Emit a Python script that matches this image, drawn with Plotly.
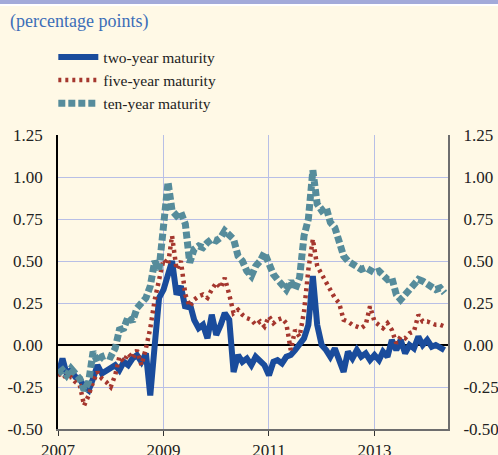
import pandas as pd
import plotly.graph_objects as go

# monthly observations, Jan 2007 - May 2014
dates = pd.date_range("2007-01-01", periods=89, freq="MS")

two_year = [
    -0.18, -0.08, -0.17, -0.15, -0.19, -0.20, -0.25, -0.27, -0.20, -0.12, -0.17, -0.15,
    -0.14, -0.12, -0.15, -0.10, -0.12, -0.08, -0.06, -0.10, -0.05, -0.30, 0.00, 0.28,
    0.33, 0.42, 0.50, 0.30, 0.35, 0.22, 0.25, 0.15, 0.10, 0.12, 0.04, 0.18,
    0.06, 0.12, 0.19, 0.15, -0.16, -0.06, -0.10, -0.08, -0.12, -0.07, -0.09, -0.12,
    -0.18, -0.10, -0.09, -0.11, -0.07, -0.06, -0.03, 0.00, 0.04, 0.12, 0.41, 0.12,
    0.00, -0.03, -0.07, -0.02, -0.10, -0.16, -0.04, -0.08, -0.03, -0.07, -0.05, -0.09,
    -0.06, -0.09, -0.04, -0.07, 0.03, -0.03, 0.03, -0.05, 0.00, -0.02, 0.05, 0.00,
    0.03, -0.01, 0.00, -0.02, -0.03,
]

five_year = [
    -0.18, -0.17, -0.20, -0.19, -0.22, -0.24, -0.36, -0.30, -0.22, -0.16, -0.20, -0.22,
    -0.25, -0.18, -0.07, -0.10, -0.05, -0.08, -0.03, -0.12, -0.02, 0.10, 0.27, 0.40,
    0.51, 0.48, 0.65, 0.45, 0.50, 0.30, 0.23, 0.27, 0.29, 0.30, 0.28, 0.33,
    0.37, 0.34, 0.40, 0.30, 0.19, 0.21, 0.18, 0.16, 0.15, 0.12, 0.14, 0.11,
    0.17, 0.13, 0.15, 0.16, 0.13, -0.03, 0.09, 0.05, 0.20, 0.45, 0.63, 0.47,
    0.42, 0.37, 0.33, 0.28, 0.25, 0.15, 0.14, 0.12, 0.11, 0.10, 0.12, 0.23,
    0.14, 0.12, 0.10, 0.13, 0.09, 0.01, 0.05, 0.04, 0.07, 0.08, 0.18, 0.14,
    0.14, 0.13, 0.12, 0.12, 0.11,
]

ten_year = [
    -0.17, -0.15, -0.18, -0.14, -0.17, -0.20, -0.27, -0.22, -0.04, -0.10, -0.07, -0.06,
    -0.07, -0.02, 0.09, 0.10, 0.17, 0.14, 0.22, 0.25, 0.28, 0.35, 0.50, 0.45,
    0.70, 0.97, 0.80, 0.77, 0.79, 0.72, 0.49, 0.57, 0.59, 0.58, 0.61, 0.63,
    0.62, 0.64, 0.68, 0.66, 0.63, 0.53, 0.50, 0.44, 0.41, 0.47, 0.50, 0.55,
    0.48, 0.42, 0.39, 0.36, 0.33, 0.38, 0.33, 0.40, 0.65, 0.75, 1.04, 0.84,
    0.80, 0.82, 0.73, 0.70, 0.60, 0.53, 0.50, 0.48, 0.47, 0.45, 0.46, 0.44,
    0.43, 0.44, 0.42, 0.39, 0.40, 0.30, 0.27, 0.30, 0.33, 0.36, 0.39, 0.38,
    0.36, 0.35, 0.33, 0.34, 0.31,
]

series_names = ["two-year maturity", "five-year maturity", "ten-year maturity"]
y_ticks = [-0.5, -0.25, 0.0, 0.25, 0.5, 0.75, 1.0, 1.25]
y_labels = ["-0.50", "-0.25", "0.00", "0.25", "0.50", "0.75", "1.00", "1.25"]

bg = "#FFF9E6"
font = "Liberation Serif"

fig = go.Figure()
fig.add_trace(go.Scatter(x=dates, y=two_year, name=series_names[0], mode="lines",
                         line=dict(color="#1A4C9C", width=6)))
fig.add_trace(go.Scatter(x=dates, y=five_year, name=series_names[1], mode="lines",
                         line=dict(color="#A5372E", width=4.5, dash="3px,4px")))
fig.add_trace(go.Scatter(x=dates, y=ten_year, name=series_names[2], mode="lines",
                         line=dict(color="#568C9B", width=7, dash="7px,3px")))
# right-hand axis copy
fig.add_trace(go.Scatter(x=[dates[0]], y=[0], yaxis="y2", mode="markers",
                         marker=dict(opacity=0), showlegend=False, hoverinfo="skip"))

yax = dict(range=[-0.5, 1.25], tickvals=y_ticks, ticktext=y_labels,
           showgrid=True, gridcolor="#B8BFE6", gridwidth=1,
           zeroline=True, zerolinecolor="black", zerolinewidth=1.5,
           ticks="", ticklabelstandoff=10, automargin=False,
           tickfont=dict(family=font, size=17, color="#222"))

fig.update_layout(
    width=498, height=455,
    margin=dict(l=58, r=50, t=135, b=26, autoexpand=False),
    paper_bgcolor=bg, plot_bgcolor=bg,
    font=dict(family=font, size=15, color="#222"),
    title=dict(text="(percentage points)", x=10 / 498, xanchor="left",
               y=1 - 21 / 455, yanchor="middle", yref="container", automargin=False,
               font=dict(family=font, size=18, color="#3C6EB8")),
    legend=dict(x=-0.012, y=1.322, xanchor="left", yanchor="top",
                bgcolor="rgba(0,0,0,0)", font=dict(family=font, size=15.5, color="#222"),
                itemwidth=40, tracegroupgap=0),
    xaxis=dict(range=["2007-01-01", "2014-05-25"], tick0="2007-01-01", dtick="M24",
               tickformat="%Y", showgrid=True, gridcolor="#B8BFE6", gridwidth=1,
               showline=True, linecolor="#6E6E6E", linewidth=2, automargin=False,
               ticks="outside", ticklen=5, tickcolor="#333",
               tickfont=dict(family=font, size=17, color="#222")),
    yaxis=dict(**yax, showline=True, linecolor="black", linewidth=1.5, side="left"),
    yaxis2=dict(**yax, overlaying="y", side="right", showline=True,
                linecolor="#6E6E6E", linewidth=2),
    shapes=[
        dict(type="rect", xref="paper", yref="paper", x0=-0.2, x1=1.2,
             y0=(429 - 4) / 294, y1=(429 + 2) / 294, fillcolor="#A3AAD9", line_width=0),
        dict(type="rect", xref="paper", yref="paper", x0=-0.2, x1=1.2,
             y0=(429 - 6) / 294, y1=(429 - 4) / 294, fillcolor="white", line_width=0),
    ],
)
fig.update_yaxes(selector=dict(overlaying="y"), showgrid=False, zeroline=False)

# drop the browser's default page margin so the chart starts at the corner
fig.write_html("out.html", config={"displayModeBar": False},
               post_script="document.body.style.margin='0';")
